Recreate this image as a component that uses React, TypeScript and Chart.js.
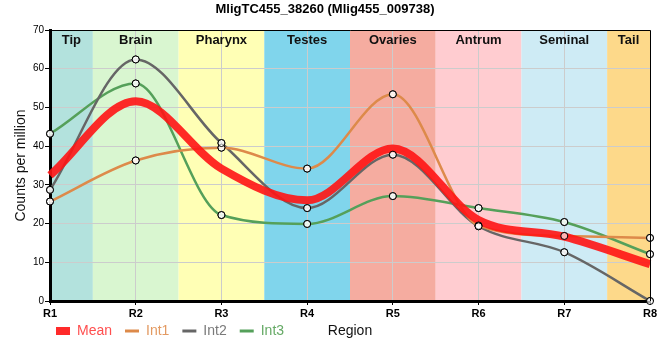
import React, { useEffect, useRef } from "react";
import { Chart, registerables } from "chart.js";

Chart.register(...registerables);

const categories = ["R1", "R2", "R3", "R4", "R5", "R6", "R7", "R8"];
const regionNames = ["Tip", "Brain", "Pharynx", "Testes", "Ovaries", "Antrum", "Seminal", "Tail"];
const regionColors = ["#b3e2dd", "#d9f6d0", "#ffffb5", "#80d5ec", "#f5aca0", "#ffccd0", "#ceebf5", "#fdd98a"];
const meanValues = [32.5, 51.6, 34.2, 26.0, 39.4, 20.9, 16.6, 9.5];
const int1Values = [25.7, 36.3, 39.6, 34.2, 53.4, 19.5, 16.8, 16.3];
const int2Values = [28.7, 62.4, 40.8, 24.0, 37.8, 19.3, 12.6, 0];
const int3Values = [43.2, 56.2, 22.2, 19.9, 27.1, 24.0, 20.4, 12.1];
const seriesNames = ["Mean", "Int1", "Int2", "Int3"];
const lineColors = ["rgba(255,20,20,0.9)", "#dd8a4a", "#666666", "#55a05a"];
const legendTextColors = ["#ff4f4f", "#e39a62", "#7a7a7a", "#66aa66"];
const yTicks = [0, 10, 20, 30, 40, 50, 60, 70];

const FONT = "'Liberation Sans', Arial, sans-serif";
const LEGEND_PAD = 13;

const bandsPlugin = {
  id: "bands",
  afterLayout(chart: any) {
    const lg = chart.legend;
    if (lg) {
      lg.left -= 7;
      lg.right -= 7;
      lg.top -= 12;
      lg.bottom -= 12;
    }
  },
  beforeDraw(chart: any) {
    const { ctx, chartArea } = chart;
    const x = chart.scales.x;
    ctx.save();
    regionNames.forEach((_, i) => {
      const l = Math.max(chartArea.left, x.getPixelForValue(i - 0.5));
      const r = Math.min(chartArea.right, x.getPixelForValue(i + 0.5));
      ctx.fillStyle = regionColors[i];
      ctx.fillRect(l, chartArea.top, r - l, chartArea.bottom - chartArea.top);
    });
    ctx.restore();
  },
  beforeDatasetsDraw(chart: any) {
    const { ctx, chartArea } = chart;
    const x = chart.scales.x;
    ctx.save();
    ctx.font = "bold 13px " + FONT;
    ctx.fillStyle = "#111";
    ctx.textAlign = "center";
    ctx.textBaseline = "top";
    regionNames.forEach((name, i) => {
      const l = Math.max(chartArea.left, x.getPixelForValue(i - 0.5));
      const r = Math.min(chartArea.right, x.getPixelForValue(i + 0.5));
      ctx.fillText(name, (l + r) / 2, chartArea.top + 4);
    });
    ctx.restore();
  },
  afterDatasetsDraw(chart: any) {
    const { ctx } = chart;
    const big = { left: -1000, right: 5000, top: -1000, bottom: 5000 };
    for (let i = 1; i < chart.data.datasets.length; i++) {
      const meta = chart.getDatasetMeta(i);
      meta.data.forEach((p: any) => p.draw(ctx, big));
    }
  },
  afterDraw(chart: any) {
    const { ctx, chartArea } = chart;
    ctx.save();
    ctx.strokeStyle = "#000";
    ctx.lineWidth = 1;
    ctx.beginPath();
    ctx.moveTo(chartArea.left, chartArea.top + 0.5);
    ctx.lineTo(chartArea.right + 0.5, chartArea.top + 0.5);
    ctx.lineTo(chartArea.right + 0.5, chartArea.bottom);
    ctx.stroke();
    const lg = chart.legend;
    const ty = lg ? lg.top + LEGEND_PAD + 7 : chartArea.bottom + 30;
    ctx.font = "14px " + FONT;
    ctx.fillStyle = "#111";
    ctx.textAlign = "center";
    ctx.textBaseline = "middle";
    ctx.fillText("Region", (chartArea.left + chartArea.right) / 2, ty);
    ctx.restore();
  },
};

export default function App() {
  const ref = useRef<HTMLCanvasElement | null>(null);
  useEffect(() => {
    document.body.style.margin = "0";
    const canvas = ref.current;
    if (!canvas) return;
    const seriesData = [meanValues, int1Values, int2Values, int3Values];
    const chart = new Chart(canvas, {
      type: "line",
      data: {
        labels: categories,
        datasets: seriesData.map((d, i) => ({
          label: seriesNames[i],
          data: d,
          borderColor: lineColors[i],
          backgroundColor: lineColors[i],
          borderWidth: i === 0 ? 8 : 2.5,
          cubicInterpolationMode: "monotone" as const,
          pointRadius: i === 0 ? 0 : 3.5,
          pointHoverRadius: 0,
          pointBackgroundColor: "rgba(255,255,255,0.65)",
          pointBorderColor: "#000",
          pointBorderWidth: 1,
          order: i === 0 ? 0 : 1,
          fill: false,
        })),
      },
      options: {
        responsive: false,
        animation: false,
        devicePixelRatio: 1,
        layout: { padding: { left: 0, right: 10, top: 0, bottom: 0 } },
        font: { family: FONT },
        plugins: {
          title: {
            display: true,
            text: "MligTC455_38260 (Mlig455_009738)",
            color: "#000",
            font: { family: FONT, size: 13, weight: "bold" },
            padding: { top: 2, bottom: 12.4 },
          },
          tooltip: { enabled: false },
          legend: {
            position: "bottom",
            align: "start",
            fullSize: false,
            labels: {
              font: { family: FONT, size: 14 },
              usePointStyle: true,
              pointStyleWidth: 14,
              boxHeight: 8,
              padding: LEGEND_PAD,
              generateLabels: (ch: any) =>
                ch.data.datasets.map((ds: any, i: number) => ({
                  text: ds.label,
                  fillStyle: i === 0 ? "#ff2a2a" : "rgba(0,0,0,0)",
                  strokeStyle: lineColors[i],
                  lineWidth: i === 0 ? 0 : 3,
                  pointStyle: i === 0 ? "rect" : "line",
                  fontColor: legendTextColors[i],
                  hidden: false,
                  datasetIndex: i,
                })),
            },
          },
        },
        scales: {
          x: {
            type: "category",
            offset: false,
            grid: { color: "#cccccc", tickColor: "#000", tickLength: 4, drawOnChartArea: true },
            border: { color: "#000", width: 3 },
            ticks: { color: "#000", font: { family: FONT, size: 11, weight: "bold" }, padding: 2, maxRotation: 0 },
            afterFit: (s: any) => { s.height = 22; },
          },
          y: {
            min: 0,
            max: 70,
            afterBuildTicks: (s: any) => { s.ticks = yTicks.map((v) => ({ value: v })); },
            grid: { color: "#cccccc", tickColor: "#000", tickLength: 5 },
            border: { color: "#000", width: 3 },
            ticks: { color: "#000", font: { family: FONT, size: 10 }, padding: 1 },
            title: {
              display: true,
              text: "Counts per million",
              color: "#111",
              font: { family: FONT, size: 14 },
              padding: { top: 13, bottom: 0 },
            },
            afterFit: (s: any) => { s.width = 50; },
          },
        },
      },
      plugins: [bandsPlugin],
    } as any);
    return () => chart.destroy();
  }, []);
  return (
    <div style={{ width: 660, height: 360 }}>
      <canvas ref={ref} width={660} height={360} />
    </div>
  );
}
